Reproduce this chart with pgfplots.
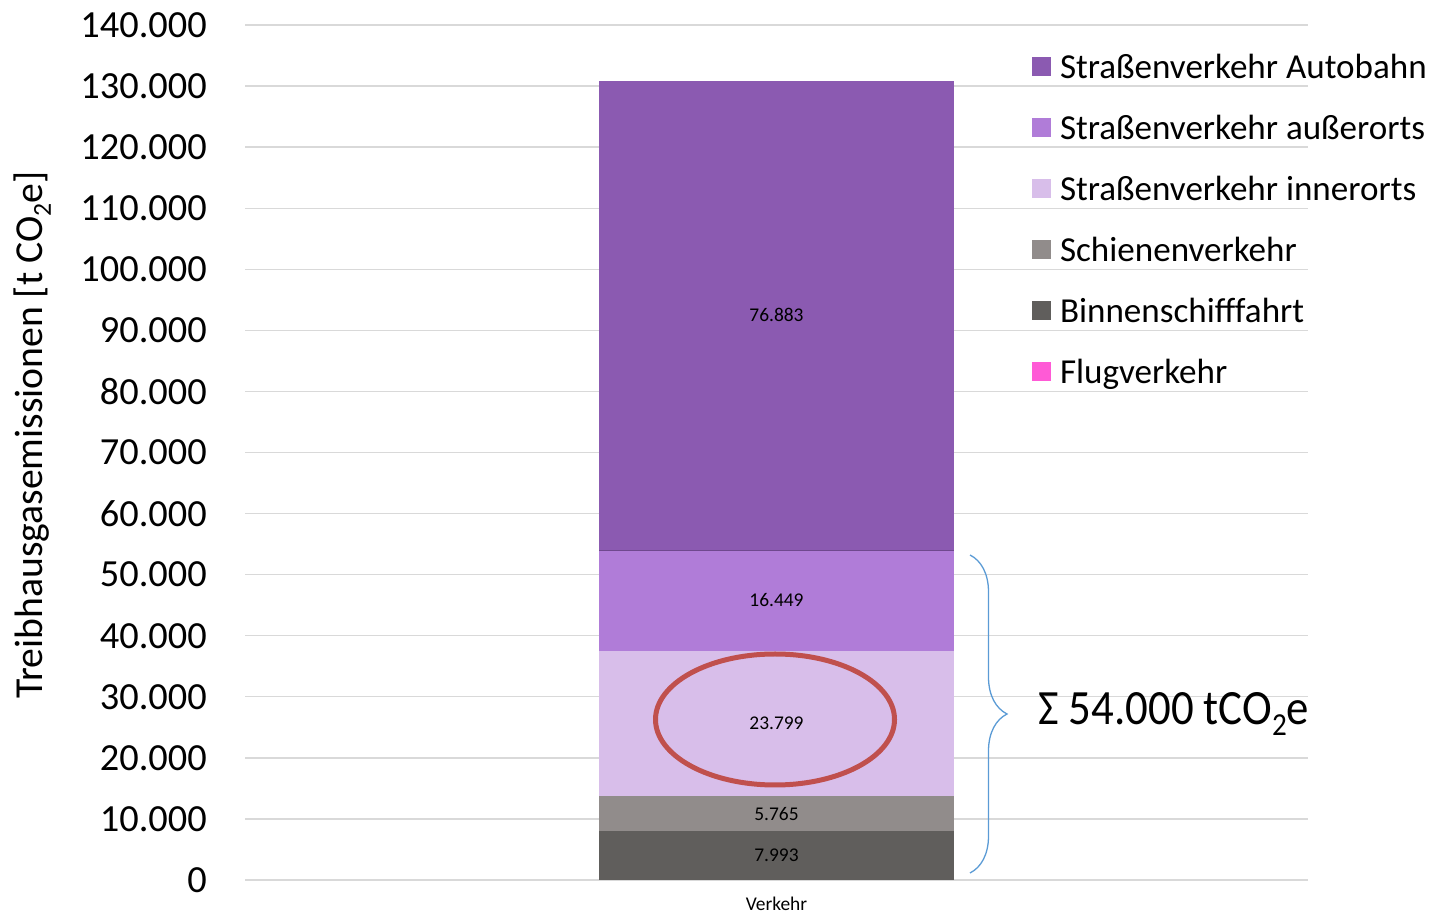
\documentclass[border=0pt]{standalone}
\usepackage{pgfplots}
\pgfplotsset{compat=1.18}
\usepackage{graphicx}
\usepackage{fontspec}
\setmainfont{Carlito}
\usetikzlibrary{decorations.pathreplacing}
\definecolor{cAuto}{HTML}{8B5AB1}
\definecolor{cAusser}{HTML}{B07CD8}
\definecolor{cInner}{HTML}{D8BEEA}
\definecolor{cSchiene}{HTML}{918C8B}
\definecolor{cBinnen}{HTML}{605E5C}
\definecolor{cFlug}{HTML}{FF5AD6}
\definecolor{gridc}{HTML}{D9D9D9}
\definecolor{ellc}{HTML}{C0504D}
\definecolor{bracec}{HTML}{5B9BD5}
\newcommand{\subtwo}{\raisebox{-0.22em}{\scalebox{0.65}{2}}}
\tikzset{lbl/.style={font=\fontsize{19.5}{19.5}\selectfont, inner sep=0pt, anchor=center}}
\begin{document}
\begin{tikzpicture}
\useasboundingbox (0bp,0bp) rectangle (1431bp,913bp);
\begin{axis}[
  at={(245bp,33bp)}, anchor=south west,
  scale only axis, width=1063bp, height=855bp,
  xmin=-1, xmax=1, ymin=0, ymax=140000,
  ybar stacked, bar width=355bp,
  xtick={0}, xticklabels={Verkehr},
  ytick={0,10000,...,140000},
  scaled y ticks=false,
  yticklabel={\pgfmathprintnumber[fixed,precision=0,1000 sep={.}]{\tick}},
  yticklabel style={font=\fontsize{38.5}{38.5}\selectfont, inner sep=0pt, anchor=east, xshift=-38bp, /pgf/number format/assume math mode=true},
  xticklabel style={font=\fontsize{19.5}{19.5}\selectfont, inner sep=0pt, anchor=north, yshift=-17bp},
  ymajorgrids, major grid style={draw=gridc, line width=1.3bp},
  axis line style={draw=none}, major tick length=0pt,
  ylabel={Treibhausgasemissionen [t CO\subtwo e]},
  ylabel style={font=\fontsize{39.8}{39.8}\selectfont, at={(axis description cs:-0.2003,0.5205)}, anchor=center, inner sep=0pt},
  legend cell align=left,
  reverse legend,
  legend image code/.code={\fill[#1] (0bp,-6bp) rectangle (19bp,13bp);},
  legend style={at={(rel axis cs:0.7404,0.9673)}, anchor=north west, draw=none, fill=none,
    inner sep=0pt, outer sep=0pt, row sep=27bp,
    font=\fontsize{35.2}{35.2}\selectfont,
    nodes={inner sep=0pt, outer sep=0pt, text height=26bp, text depth=8bp},
    /tikz/every odd column/.append style={column sep=9bp}},
]
\addplot[fill=cFlug, draw=none] coordinates {(0,0)};
\addlegendentry{Flugverkehr}
\addplot[fill=cBinnen, draw=none] coordinates {(0,7993)};
\addlegendentry{Binnenschifffahrt}
\addplot[fill=cSchiene, draw=none] coordinates {(0,5765)};
\addlegendentry{Schienenverkehr}
\addplot[fill=cInner, draw=none] coordinates {(0,23799)};
\addlegendentry{Straßenverkehr innerorts}
\addplot[fill=cAusser, draw=none] coordinates {(0,16449)};
\addlegendentry{Straßenverkehr außerorts}
\addplot[fill=cAuto, draw=none] coordinates {(0,76883)};
\addlegendentry{Straßenverkehr Autobahn}
\coordinate (l1) at (axis cs:0,3996);
\coordinate (l2) at (axis cs:0,10875);
\coordinate (l3) at (axis cs:0,25657);
\coordinate (l4) at (axis cs:0,45782);
\coordinate (l5) at (axis cs:0,92447);
\coordinate (b1) at (axis cs:-0.3339,54006);
\coordinate (b2) at (axis cs:0.3339,54006);
\end{axis}
\draw[draw=cAuto!80!black, line width=1bp] (b1) -- (b2);
\node[lbl] at (l1) {7.993};
\node[lbl] at (l2) {5.765};
\node[lbl] at (l3) {23.799};
\node[lbl] at (l4) {16.449};
\node[lbl] at (l5) {76.883};
\draw[ellc, line width=5bp] (775bp,193.5bp) ellipse [x radius=119.5bp, y radius=65.5bp];
\draw[bracec, line width=1.3bp, decorate, decoration={brace, amplitude=37bp}] (970bp,358bp) -- (970bp,40bp);
\node[anchor=base west, inner sep=0pt, font=\fontsize{45}{45}\selectfont] at (1038bp,188bp) {\scalebox{1}[1.1]{Σ 54.000 tCO\subtwo e}};
\end{tikzpicture}
\end{document}
